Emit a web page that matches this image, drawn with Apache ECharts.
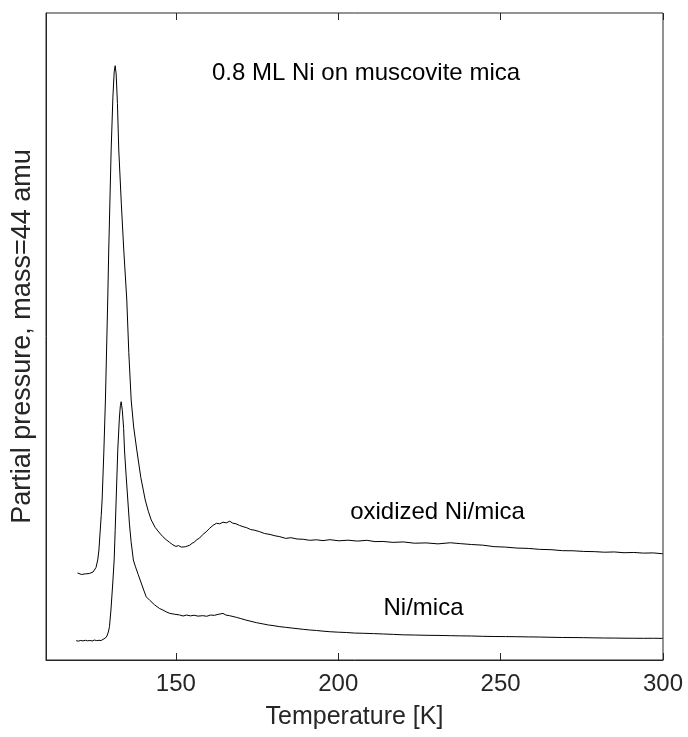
<!DOCTYPE html>
<html>
<head>
<meta charset="utf-8">
<script src="https://cdn.jsdelivr.net/npm/echarts@6/dist/echarts.min.js"></script>
<style>
html,body{margin:0;padding:0;background:#fff;}
#chart{width:688px;height:737px;}
</style>
</head>
<body>
<div id="chart"></div>
<script>
// X tick labels
var xTicks = [150, 200, 250, 300];

// oxidized Ni/mica: temperature [K] and partial pressure (arb. units)
var oxT = [119.7,120.3,120.9,121.5,122.1,122.7,123.3,123.9,124.5,125.0,125.4,125.93,126.3,126.6,127.0,127.28,127.8,128.3,129.01,129.32,130.06,130.6,131.0,131.3,131.6,132.0,132.41,133.2,133.95,134.88,135.5,136.23,137.0,137.96,139.2,140.56,141.5,142.41,143.6,144.97,146.0,147.0,148.0,149.07,150.0,150.8,151.67,152.2,152.9,153.5,154.3,155.0,155.7,156.3,157.3,158.3,159.3,160.4,161.4,162.5,163.5,164.5,165.5,166.6,167.5,168.5,169.6,170.7,171.8,173.0,174.3,175.8,177.3,179.0,180.5,182.0,183.8,185.5,187.3,189.2,191.2,193.3,195.3,197.4,200.2,203.0,205.9,208.8,211.3,213.8,216.9,220.0,223.5,227.0,230.7,234.5,237.7,241.0,244.5,248.0,251.5,255.0,258.5,262.0,265.5,269.0,272.3,275.6,278.8,282.0,285.0,288.0,291.0,294.0,297.0,299.9];
var oxV = [13.45,13.38,13.22,13.40,13.31,13.47,13.36,13.55,13.60,13.80,14.30,15.46,17.0,19.32,22.3,24.73,32.0,40.19,55.64,63.37,78.83,87.0,90.9,91.85,90.6,86.0,78.83,70.5,63.37,55.64,47.5,40.19,36.0,32.46,28.2,24.73,23.0,21.64,20.5,19.63,19.05,18.60,18.20,17.80,17.55,17.68,17.45,17.36,17.50,17.62,17.75,18.05,18.20,18.55,18.85,19.40,19.80,20.36,20.80,21.13,21.05,21.30,21.20,21.45,21.15,21.05,20.80,20.60,20.45,20.17,20.05,19.83,19.55,19.40,19.20,19.06,18.80,18.90,18.70,18.66,18.50,18.58,18.45,18.60,18.42,18.52,18.38,18.50,18.30,18.32,18.18,18.25,18.05,18.10,17.95,18.12,17.98,17.85,17.75,17.52,17.45,17.30,17.25,17.10,17.05,16.90,16.88,16.78,16.75,16.66,16.70,16.58,16.62,16.52,16.55,16.42];

// Ni/mica
var niT = [119.3,120.0,120.7,121.4,122.1,122.8,123.5,124.2,124.9,125.6,126.3,127.0,127.6,128.3,128.77,129.2,129.54,130.0,130.56,130.99,131.3,131.6,132.1,132.6,132.9,133.15,133.5,133.9,134.17,134.7,135.19,135.7,136.2,136.9,137.56,138.4,139.32,140.1,140.86,142.0,143.5,145.0,146.0,147.0,148.06,149.5,151.14,152.2,153.3,154.5,155.6,156.8,158.3,159.5,160.7,161.8,163.0,164.5,165.4,166.5,167.6,168.6,170.0,171.5,173.1,174.8,176.6,178.5,180.2,182.0,183.8,185.5,187.3,189.2,191.2,193.3,195.3,197.4,200.0,202.5,205.1,207.7,210.8,213.9,217.0,220.0,223.5,227.0,230.7,234.5,237.7,241.0,244.5,248.0,251.5,255.0,258.5,262.0,265.5,269.0,272.3,275.6,278.8,282.0,285.0,288.0,291.0,294.0,297.0,299.9];
var niV = [2.98,2.92,3.02,2.95,3.05,2.96,3.02,2.94,3.08,3.00,3.04,3.02,3.17,3.40,3.71,4.33,5.15,7.73,11.90,15.46,20.0,24.73,32.46,37.40,39.3,39.92,38.6,35.8,32.46,28.3,24.73,21.0,18.3,15.46,14.4,13.2,11.9,10.8,9.78,9.2,8.5,7.95,7.73,7.45,7.22,7.08,6.96,6.80,6.95,6.82,6.92,6.78,6.85,6.76,6.95,6.90,7.05,7.20,6.95,6.85,6.72,6.60,6.40,6.18,5.98,5.77,5.60,5.41,5.30,5.15,5.05,4.95,4.85,4.74,4.64,4.56,4.46,4.37,4.30,4.25,4.16,4.13,4.08,4.02,3.96,3.89,3.86,3.82,3.80,3.76,3.73,3.71,3.66,3.63,3.62,3.60,3.57,3.55,3.51,3.48,3.47,3.45,3.42,3.40,3.39,3.37,3.36,3.35,3.36,3.34];

function zip(a, b) { return a.map(function (v, i) { return [v, b[i]]; }); }

var FONT = "'Liberation Sans', Arial, Helvetica, sans-serif";
var INK = '#262626';

var chart = echarts.init(document.getElementById('chart'), null, {renderer: 'canvas'});
chart.setOption({
  animation: false,
  backgroundColor: '#fff',
  grid: {left: 46, right: 25, top: 13, bottom: 77, show: true, borderColor: INK, borderWidth: 1, backgroundColor: 'transparent'},
  xAxis: [{
    type: 'value', min: 110, max: 300, position: 'bottom',
    name: 'Temperature [K]', nameLocation: 'middle', nameGap: 45,
    nameTextStyle: {fontFamily: FONT, fontSize: 25, color: INK},
    axisLine: {show: true, lineStyle: {color: INK, width: 1}},
    axisTick: {show: true, inside: true, length: 7, customValues: xTicks, lineStyle: {color: INK}},
    axisLabel: {show: true, customValues: xTicks, margin: 12, fontFamily: FONT, fontSize: 24, color: INK},
    splitLine: {show: false}
  }, {
    type: 'value', min: 110, max: 300, position: 'top',
    axisLine: {show: false},
    axisTick: {show: true, inside: true, length: 7, customValues: xTicks, lineStyle: {color: INK}},
    axisLabel: {show: false},
    splitLine: {show: false}
  }],
  yAxis: {
    type: 'value', min: 0, max: 100,
    name: 'Partial pressure, mass=44 amu', nameLocation: 'middle', nameGap: 10, nameRotate: 90,
    nameTextStyle: {fontFamily: FONT, fontSize: 27, color: INK},
    axisLine: {show: true, lineStyle: {color: INK, width: 1}},
    axisTick: {show: false}, axisLabel: {show: false}, splitLine: {show: false}
  },
  series: [{
    name: 'oxidized Ni/mica', type: 'line', data: zip(oxT, oxV), showSymbol: false, symbol: 'none',
    lineStyle: {color: '#000', width: 1}, silent: true
  }, {
    name: 'Ni/mica', type: 'line', data: zip(niT, niV), showSymbol: false, symbol: 'none',
    lineStyle: {color: '#000', width: 1}, silent: true
  }],
  graphic: [
    {type: 'text', x: 366, y: 73.5, style: {text: '0.8 ML Ni on muscovite mica', font: "24px 'Liberation Sans', Arial, sans-serif", fill: '#000', align: 'center', verticalAlign: 'middle'}},
    {type: 'text', x: 437.5, y: 512, style: {text: 'oxidized Ni/mica', font: "24px 'Liberation Sans', Arial, sans-serif", fill: '#000', align: 'center', verticalAlign: 'middle'}},
    {type: 'text', x: 423.5, y: 608.5, style: {text: 'Ni/mica', font: "24px 'Liberation Sans', Arial, sans-serif", fill: '#000', align: 'center', verticalAlign: 'middle'}}
  ]
});
</script>
</body>
</html>
